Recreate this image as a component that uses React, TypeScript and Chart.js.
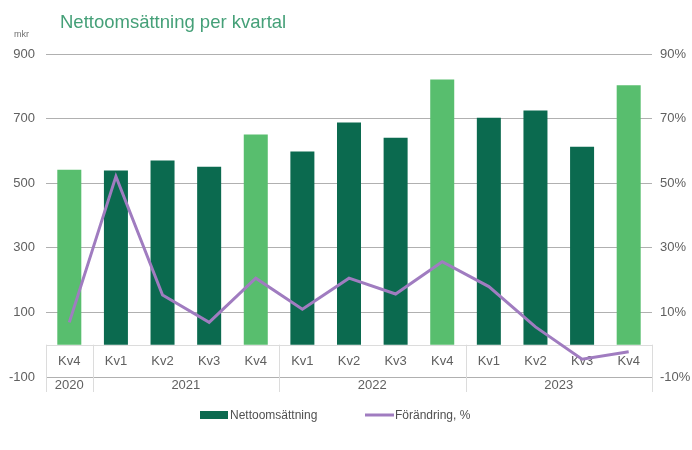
import React, { useEffect, useRef } from "react";
import { Chart, registerables } from "chart.js";

Chart.register(...registerables);

const quarters = ["Kv4", "Kv1", "Kv2", "Kv3", "Kv4", "Kv1", "Kv2", "Kv3", "Kv4", "Kv1", "Kv2", "Kv3", "Kv4"];
const years = ["2020", "2021", "2022", "2023"];
const yearSpans = [1, 4, 4, 4];
const netSales = [542, 539, 570, 551, 651, 598, 688, 641, 821, 703, 725, 613, 803];
const changePct = [6.9, 52.1, 15.4, 6.9, 20.6, 11.0, 20.6, 15.7, 25.7, 18.0, 5.5, -4.5, -2.2];
const leftTicks = [-100, 100, 300, 500, 700, 900];
const rightTicks = [-10, 10, 30, 50, 70, 90];

const DARK = "#0b6a4f";
const LIGHT = "#58be6e";
const PURPLE = "#a07cc0";
const TEXT = "#606060";
const FONT = "'Liberation Sans', Arial, sans-serif";

const overlay = {
  id: "overlay",
  beforeDatasetsDraw(chart: any) {
    const { ctx, chartArea, scales } = chart;
    const y0 = scales.y.getPixelForValue(0);
    const yb = scales.y.getPixelForValue(-100);
    const left = chartArea.left;
    const right = chartArea.right;
    const catW = (right - left) / quarters.length;
    ctx.save();
    ctx.strokeStyle = "#dcdcdc";
    ctx.lineWidth = 1;
    ctx.beginPath();
    ctx.moveTo(left, Math.round(y0) + 0.5);
    ctx.lineTo(right, Math.round(y0) + 0.5);
    let k = 0;
    const bounds = [0];
    yearSpans.forEach((s) => { k += s; bounds.push(k); });
    bounds.forEach((b) => {
      const x = Math.round(left + b * catW) + 0.5;
      ctx.moveTo(x, y0);
      ctx.lineTo(x, yb + 15);
    });
    ctx.stroke();
    ctx.fillStyle = TEXT;
    ctx.font = `13px ${FONT}`;
    ctx.textAlign = "center";
    ctx.textBaseline = "middle";
    quarters.forEach((q, i) => {
      ctx.fillText(q, left + (i + 0.5) * catW, (y0 + yb) / 2 + 1);
    });
    let start = 0;
    years.forEach((yr, i) => {
      const mid = left + (start + yearSpans[i] / 2) * catW;
      ctx.fillText(yr, mid, yb + 8);
      start += yearSpans[i];
    });
    ctx.restore();
  },
  afterDraw(chart: any) {
    const { ctx } = chart;
    ctx.save();
    ctx.fillStyle = "#45a078";
    ctx.font = `18.5px ${FONT}`;
    ctx.textBaseline = "alphabetic";
    ctx.textAlign = "left";
    ctx.fillText("Nettoomsättning per kvartal", 60, 28);
    ctx.fillStyle = "#707070";
    ctx.font = `9px ${FONT}`;
    ctx.fillText("mkr", 14, 37);
    // legend
    ctx.fillStyle = DARK;
    ctx.fillRect(200, 411, 28, 8);
    ctx.fillStyle = "#505050";
    ctx.font = `12px ${FONT}`;
    ctx.textBaseline = "middle";
    ctx.fillText("Nettoomsättning", 230, 416);
    ctx.strokeStyle = PURPLE;
    ctx.lineWidth = 3;
    ctx.beginPath();
    ctx.moveTo(365, 415);
    ctx.lineTo(394, 415);
    ctx.stroke();
    ctx.fillText("Förändring, %", 395, 416);
    ctx.restore();
  },
};

export default function App() {
  const ref = useRef<HTMLCanvasElement>(null);
  useEffect(() => {
    if (!ref.current) return;
    const chart = new Chart(ref.current, {
      type: "bar",
      data: {
        labels: quarters,
        datasets: [
          {
            type: "line",
            label: "Förändring, %",
            data: changePct,
            yAxisID: "y1",
            borderColor: PURPLE,
            backgroundColor: PURPLE,
            borderWidth: 3,
            pointRadius: 0,
            tension: 0,
            order: 0,
          } as any,
          {
            type: "bar",
            label: "Nettoomsättning",
            data: netSales,
            yAxisID: "y",
            backgroundColor: quarters.map((q) => (q === "Kv4" ? LIGHT : DARK)),
            barPercentage: 0.515,
            categoryPercentage: 1,
            order: 1,
          },
        ],
      },
      options: {
        responsive: false,
        animation: false,
        layout: { padding: { top: 54, bottom: 73, left: 0, right: 0 } },
        plugins: { legend: { display: false }, tooltip: { enabled: false }, title: { display: false } },
        scales: {
          x: { display: false, offset: true },
          y: {
            position: "left",
            min: -100,
            max: 900,
            afterFit: (s: any) => { s.width = 46; },
            afterBuildTicks: (s: any) => { s.ticks = leftTicks.map((v) => ({ value: v })); },
            ticks: { color: TEXT, font: { family: FONT, size: 13 }, padding: 11 },
            grid: { color: "#b0b0b0", lineWidth: 1, drawTicks: false },
            border: { display: false },
          },
          y1: {
            position: "right",
            min: -10,
            max: 90,
            afterFit: (s: any) => { s.width = 40; },
            afterBuildTicks: (s: any) => { s.ticks = rightTicks.map((v) => ({ value: v })); },
            ticks: { color: TEXT, font: { family: FONT, size: 13 }, padding: 8, callback: (v: any) => `${v}%` },
            grid: { display: false, drawTicks: false },
            border: { display: false },
          },
        },
      },
      plugins: [overlay],
    });
    return () => chart.destroy();
  }, []);
  return (
    <div style={{ position: "fixed", left: 0, top: 0, width: 692, height: 450, background: "#fff" }}>
      <canvas ref={ref} width={692} height={450} style={{ display: "block" }} />
    </div>
  );
}
